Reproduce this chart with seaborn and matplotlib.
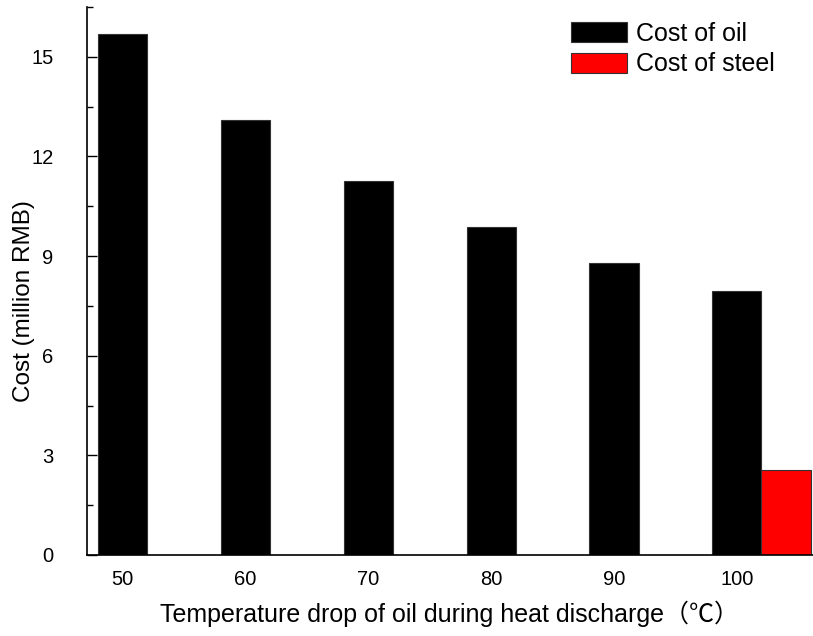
import numpy as np
import pandas as pd
import seaborn as sns
import matplotlib
matplotlib.use("Agg")
import matplotlib.pyplot as plt
from matplotlib.ticker import MultipleLocator

temps = ["50", "60", "70", "80", "90", "100"]
oil_cost = [15.69, 13.1, 11.26, 9.87, 8.78, 7.94]
steel_cost = [np.nan, np.nan, np.nan, np.nan, np.nan, 2.55]
series = ["Cost of oil", "Cost of steel"]
colors = {"Cost of oil": "#000000", "Cost of steel": "#ff0000"}

df = pd.DataFrame({
    "temp": temps * 2,
    "cost": oil_cost + steel_cost,
    "type": [series[0]] * len(temps) + [series[1]] * len(temps),
})

sns.set_theme(style="ticks")
plt.rcParams["font.family"] = ["Liberation Sans", "Noto Sans CJK SC", "DejaVu Sans"]
plt.rcParams.update({"text.color": "black", "axes.labelcolor": "black",
                     "xtick.color": "black", "ytick.color": "black",
                     "xtick.labelcolor": "black", "ytick.labelcolor": "black"})

fig = plt.figure(figsize=(8.13, 6.36), dpi=100)
ax = fig.add_axes([0.107, 0.1274, 0.893, 0.8616])

sns.barplot(data=df, x="temp", y="cost", hue="type", order=temps,
            hue_order=series, palette=colors, width=0.8, dodge=True,
            saturation=1, edgecolor="#333333", linewidth=0.8, ax=ax)

ax.set_ylim(0, 16.5)
ax.set_xlim(-0.49, 5.42)
ax.yaxis.set_major_locator(MultipleLocator(3))
ax.yaxis.set_minor_locator(MultipleLocator(1.5))
ax.tick_params(axis="y", which="major", direction="in", length=7, width=1, labelsize=14.5, pad=24)
ax.tick_params(axis="y", which="minor", direction="in", length=4, width=1)
ax.set_xticks(np.arange(len(temps)) - 0.2)
ax.set_xticklabels(temps)
ax.tick_params(axis="x", which="both", length=0, labelsize=14.5, pad=11)

for s in ["top", "right"]:
    ax.spines[s].set_visible(False)
for s in ["left", "bottom"]:
    ax.spines[s].set_linewidth(1.2)
    ax.spines[s].set_color("black")

ax.set_ylabel("Cost (million RMB)", fontsize=17.5)
ax.yaxis.set_label_coords(-0.071, 0.463)
ax.set_xlabel("Temperature drop of oil during heat discharge（℃）", fontsize=18, labelpad=8)

ax.legend(loc="upper left", bbox_to_anchor=(571 / 813, 1 - 22 / 636),
          bbox_transform=fig.transFigure, frameon=False, fontsize=18,
          borderpad=0, borderaxespad=0,
          handlelength=2.25, handleheight=0.85, handletextpad=0.35, labelspacing=0.25)

fig.savefig("out.png", dpi=100)
